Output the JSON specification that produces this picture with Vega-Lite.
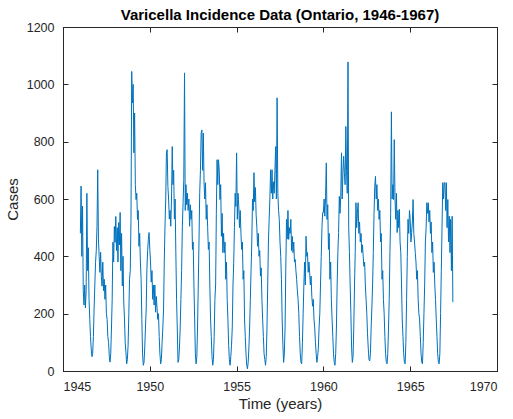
{
"$schema": "https://vega.github.io/schema/vega-lite/v6.json",
"width": 434, "height": 344,
"autosize": {"type": "none"},
"padding": {"left": 63, "top": 27, "right": 16, "bottom": 48},
"background": "white",
"title": {"text": "Varicella Incidence Data (Ontario, 1946-1967)", "font": "Liberation Sans", "fontSize": 15, "fontWeight": "bold", "color": "#000000", "offset": 6, "dy": 8, "anchor": "middle"},
"config": {
  "view": {"stroke": "#262626", "strokeWidth": 1},
  "axis": {"domainColor": "#262626", "tickColor": "#262626", "labelColor": "#262626", "titleColor": "#262626", "labelFont": "Liberation Sans", "titleFont": "Liberation Sans", "labelFontSize": 12.5, "titleFontSize": 15, "titleFontWeight": "normal", "grid": false, "tickSize": -5, "labelPadding": 14, "format": "d"}
},
"datasets": {"d": [
{"t":1946.000,"c":480},{"t":1946.042,"c":645},{"t":1946.083,"c":400},{"t":1946.125,"c":575},{"t":1946.167,"c":280},{"t":1946.208,"c":230},{"t":1946.250,"c":300},{"t":1946.292,"c":220},{"t":1946.333,"c":280},{"t":1946.375,"c":620},{"t":1946.417,"c":350},{"t":1946.458,"c":430},{"t":1946.500,"c":250},{"t":1946.542,"c":180},{"t":1946.583,"c":120},{"t":1946.625,"c":77},{"t":1946.667,"c":50},{"t":1946.708,"c":60},{"t":1946.750,"c":120},{"t":1946.792,"c":216},{"t":1946.833,"c":300},{"t":1946.875,"c":379},{"t":1946.917,"c":420},{"t":1946.958,"c":504},
{"t":1947.000,"c":702},{"t":1947.042,"c":460},{"t":1947.083,"c":400},{"t":1947.125,"c":344},{"t":1947.167,"c":414},{"t":1947.208,"c":330},{"t":1947.250,"c":296},{"t":1947.292,"c":380},{"t":1947.333,"c":280},{"t":1947.375,"c":320},{"t":1947.417,"c":250},{"t":1947.458,"c":300},{"t":1947.500,"c":200},{"t":1947.542,"c":180},{"t":1947.583,"c":120},{"t":1947.625,"c":100},{"t":1947.667,"c":50},{"t":1947.708,"c":31},{"t":1947.750,"c":60},{"t":1947.792,"c":150},{"t":1947.833,"c":250},{"t":1947.875,"c":449},{"t":1947.917,"c":380},{"t":1947.958,"c":504},
{"t":1948.000,"c":449},{"t":1948.042,"c":539},{"t":1948.083,"c":420},{"t":1948.125,"c":500},{"t":1948.167,"c":380},{"t":1948.208,"c":518},{"t":1948.250,"c":440},{"t":1948.292,"c":553},{"t":1948.333,"c":350},{"t":1948.375,"c":480},{"t":1948.417,"c":297},{"t":1948.458,"c":400},{"t":1948.500,"c":240},{"t":1948.542,"c":181},{"t":1948.583,"c":100},{"t":1948.625,"c":66},{"t":1948.667,"c":25},{"t":1948.708,"c":40},{"t":1948.750,"c":90},{"t":1948.792,"c":200},{"t":1948.833,"c":320},{"t":1948.875,"c":350},{"t":1948.917,"c":529},{"t":1948.958,"c":1045},
{"t":1949.000,"c":935},{"t":1949.042,"c":1000},{"t":1949.083,"c":761},{"t":1949.125,"c":900},{"t":1949.167,"c":650},{"t":1949.208,"c":598},{"t":1949.250,"c":620},{"t":1949.292,"c":529},{"t":1949.333,"c":560},{"t":1949.375,"c":435},{"t":1949.417,"c":480},{"t":1949.458,"c":380},{"t":1949.500,"c":320},{"t":1949.542,"c":180},{"t":1949.583,"c":60},{"t":1949.625,"c":20},{"t":1949.667,"c":30},{"t":1949.708,"c":80},{"t":1949.750,"c":150},{"t":1949.792,"c":216},{"t":1949.833,"c":355},{"t":1949.875,"c":420},{"t":1949.917,"c":459},{"t":1949.958,"c":483},
{"t":1950.000,"c":424},{"t":1950.042,"c":380},{"t":1950.083,"c":310},{"t":1950.125,"c":350},{"t":1950.167,"c":250},{"t":1950.208,"c":300},{"t":1950.250,"c":230},{"t":1950.292,"c":300},{"t":1950.333,"c":205},{"t":1950.375,"c":260},{"t":1950.417,"c":220},{"t":1950.458,"c":180},{"t":1950.500,"c":200},{"t":1950.542,"c":120},{"t":1950.583,"c":60},{"t":1950.625,"c":25},{"t":1950.667,"c":40},{"t":1950.708,"c":100},{"t":1950.750,"c":150},{"t":1950.792,"c":216},{"t":1950.833,"c":380},{"t":1950.875,"c":505},{"t":1950.917,"c":600},{"t":1950.958,"c":761},
{"t":1951.000,"c":772},{"t":1951.042,"c":644},{"t":1951.083,"c":600},{"t":1951.125,"c":530},{"t":1951.167,"c":560},{"t":1951.208,"c":505},{"t":1951.250,"c":600},{"t":1951.292,"c":783},{"t":1951.333,"c":650},{"t":1951.375,"c":700},{"t":1951.417,"c":530},{"t":1951.458,"c":600},{"t":1951.500,"c":413},{"t":1951.542,"c":250},{"t":1951.583,"c":150},{"t":1951.625,"c":30},{"t":1951.667,"c":40},{"t":1951.708,"c":80},{"t":1951.750,"c":150},{"t":1951.792,"c":250},{"t":1951.833,"c":350},{"t":1951.875,"c":505},{"t":1951.917,"c":588},{"t":1951.958,"c":667},
{"t":1952.000,"c":1040},{"t":1952.042,"c":560},{"t":1952.083,"c":650},{"t":1952.125,"c":580},{"t":1952.167,"c":620},{"t":1952.208,"c":560},{"t":1952.250,"c":600},{"t":1952.292,"c":505},{"t":1952.333,"c":580},{"t":1952.375,"c":529},{"t":1952.417,"c":560},{"t":1952.458,"c":424},{"t":1952.500,"c":450},{"t":1952.542,"c":300},{"t":1952.583,"c":181},{"t":1952.625,"c":60},{"t":1952.667,"c":25},{"t":1952.708,"c":50},{"t":1952.750,"c":150},{"t":1952.792,"c":300},{"t":1952.833,"c":450},{"t":1952.875,"c":622},{"t":1952.917,"c":700},{"t":1952.958,"c":830},
{"t":1953.000,"c":841},{"t":1953.042,"c":700},{"t":1953.083,"c":830},{"t":1953.125,"c":657},{"t":1953.167,"c":600},{"t":1953.208,"c":657},{"t":1953.250,"c":529},{"t":1953.292,"c":580},{"t":1953.333,"c":500},{"t":1953.375,"c":424},{"t":1953.417,"c":450},{"t":1953.458,"c":300},{"t":1953.500,"c":181},{"t":1953.542,"c":120},{"t":1953.583,"c":50},{"t":1953.625,"c":20},{"t":1953.667,"c":40},{"t":1953.708,"c":120},{"t":1953.750,"c":250},{"t":1953.792,"c":300},{"t":1953.833,"c":550},{"t":1953.875,"c":737},{"t":1953.917,"c":650},{"t":1953.958,"c":737},
{"t":1954.000,"c":700},{"t":1954.042,"c":598},{"t":1954.083,"c":650},{"t":1954.125,"c":470},{"t":1954.167,"c":550},{"t":1954.208,"c":413},{"t":1954.250,"c":480},{"t":1954.292,"c":413},{"t":1954.333,"c":450},{"t":1954.375,"c":320},{"t":1954.417,"c":380},{"t":1954.458,"c":250},{"t":1954.500,"c":181},{"t":1954.542,"c":90},{"t":1954.583,"c":40},{"t":1954.625,"c":20},{"t":1954.667,"c":50},{"t":1954.708,"c":90},{"t":1954.750,"c":150},{"t":1954.792,"c":300},{"t":1954.833,"c":374},{"t":1954.875,"c":500},{"t":1954.917,"c":620},{"t":1954.958,"c":574},
{"t":1955.000,"c":761},{"t":1955.042,"c":529},{"t":1955.083,"c":620},{"t":1955.125,"c":574},{"t":1955.167,"c":500},{"t":1955.208,"c":560},{"t":1955.250,"c":480},{"t":1955.292,"c":424},{"t":1955.333,"c":450},{"t":1955.375,"c":320},{"t":1955.417,"c":350},{"t":1955.458,"c":181},{"t":1955.500,"c":120},{"t":1955.542,"c":60},{"t":1955.583,"c":20},{"t":1955.625,"c":8},{"t":1955.667,"c":30},{"t":1955.708,"c":80},{"t":1955.750,"c":150},{"t":1955.792,"c":250},{"t":1955.833,"c":350},{"t":1955.875,"c":450},{"t":1955.917,"c":600},{"t":1955.958,"c":560},
{"t":1956.000,"c":692},{"t":1956.042,"c":590},{"t":1956.083,"c":640},{"t":1956.125,"c":545},{"t":1956.167,"c":500},{"t":1956.208,"c":435},{"t":1956.250,"c":480},{"t":1956.292,"c":400},{"t":1956.333,"c":420},{"t":1956.375,"c":331},{"t":1956.417,"c":360},{"t":1956.458,"c":250},{"t":1956.500,"c":181},{"t":1956.542,"c":120},{"t":1956.583,"c":60},{"t":1956.625,"c":40},{"t":1956.667,"c":20},{"t":1956.708,"c":50},{"t":1956.750,"c":150},{"t":1956.792,"c":300},{"t":1956.833,"c":450},{"t":1956.875,"c":529},{"t":1956.917,"c":600},{"t":1956.958,"c":702},
{"t":1957.000,"c":620},{"t":1957.042,"c":702},{"t":1957.083,"c":600},{"t":1957.125,"c":660},{"t":1957.167,"c":620},{"t":1957.208,"c":700},{"t":1957.250,"c":783},{"t":1957.292,"c":600},{"t":1957.333,"c":953},{"t":1957.375,"c":620},{"t":1957.417,"c":560},{"t":1957.458,"c":529},{"t":1957.500,"c":450},{"t":1957.542,"c":400},{"t":1957.583,"c":320},{"t":1957.625,"c":181},{"t":1957.667,"c":90},{"t":1957.708,"c":30},{"t":1957.750,"c":60},{"t":1957.792,"c":150},{"t":1957.833,"c":350},{"t":1957.875,"c":529},{"t":1957.917,"c":460},{"t":1957.958,"c":560},
{"t":1958.000,"c":459},{"t":1958.042,"c":500},{"t":1958.083,"c":480},{"t":1958.125,"c":529},{"t":1958.167,"c":420},{"t":1958.208,"c":470},{"t":1958.250,"c":413},{"t":1958.292,"c":450},{"t":1958.333,"c":380},{"t":1958.375,"c":389},{"t":1958.417,"c":350},{"t":1958.458,"c":320},{"t":1958.500,"c":280},{"t":1958.542,"c":250},{"t":1958.583,"c":200},{"t":1958.625,"c":120},{"t":1958.667,"c":60},{"t":1958.708,"c":30},{"t":1958.750,"c":25},{"t":1958.792,"c":100},{"t":1958.833,"c":200},{"t":1958.875,"c":300},{"t":1958.917,"c":380},{"t":1958.958,"c":300},
{"t":1959.000,"c":470},{"t":1959.042,"c":400},{"t":1959.083,"c":413},{"t":1959.125,"c":344},{"t":1959.167,"c":380},{"t":1959.208,"c":344},{"t":1959.250,"c":300},{"t":1959.292,"c":331},{"t":1959.333,"c":260},{"t":1959.375,"c":226},{"t":1959.417,"c":250},{"t":1959.458,"c":181},{"t":1959.500,"c":150},{"t":1959.542,"c":100},{"t":1959.583,"c":60},{"t":1959.625,"c":30},{"t":1959.667,"c":50},{"t":1959.708,"c":80},{"t":1959.750,"c":150},{"t":1959.792,"c":200},{"t":1959.833,"c":300},{"t":1959.875,"c":400},{"t":1959.917,"c":500},{"t":1959.958,"c":553},
{"t":1960.000,"c":553},{"t":1960.042,"c":600},{"t":1960.083,"c":540},{"t":1960.125,"c":609},{"t":1960.167,"c":726},{"t":1960.208,"c":529},{"t":1960.250,"c":580},{"t":1960.292,"c":424},{"t":1960.333,"c":480},{"t":1960.375,"c":320},{"t":1960.417,"c":380},{"t":1960.458,"c":250},{"t":1960.500,"c":181},{"t":1960.542,"c":120},{"t":1960.583,"c":60},{"t":1960.625,"c":30},{"t":1960.667,"c":20},{"t":1960.708,"c":60},{"t":1960.750,"c":150},{"t":1960.792,"c":300},{"t":1960.833,"c":413},{"t":1960.875,"c":483},{"t":1960.917,"c":609},{"t":1960.958,"c":550},
{"t":1961.000,"c":609},{"t":1961.042,"c":761},{"t":1961.083,"c":600},{"t":1961.125,"c":690},{"t":1961.167,"c":749},{"t":1961.208,"c":692},{"t":1961.250,"c":650},{"t":1961.292,"c":853},{"t":1961.333,"c":700},{"t":1961.375,"c":620},{"t":1961.417,"c":1078},{"t":1961.458,"c":500},{"t":1961.500,"c":413},{"t":1961.542,"c":300},{"t":1961.583,"c":200},{"t":1961.625,"c":80},{"t":1961.667,"c":30},{"t":1961.708,"c":50},{"t":1961.750,"c":150},{"t":1961.792,"c":300},{"t":1961.833,"c":413},{"t":1961.875,"c":587},{"t":1961.917,"c":500},{"t":1961.958,"c":550},
{"t":1962.000,"c":587},{"t":1962.042,"c":480},{"t":1962.083,"c":520},{"t":1962.125,"c":450},{"t":1962.167,"c":480},{"t":1962.208,"c":413},{"t":1962.250,"c":440},{"t":1962.292,"c":400},{"t":1962.333,"c":365},{"t":1962.375,"c":380},{"t":1962.417,"c":300},{"t":1962.458,"c":250},{"t":1962.500,"c":200},{"t":1962.542,"c":130},{"t":1962.583,"c":80},{"t":1962.625,"c":40},{"t":1962.667,"c":35},{"t":1962.708,"c":60},{"t":1962.750,"c":150},{"t":1962.792,"c":220},{"t":1962.833,"c":300},{"t":1962.875,"c":413},{"t":1962.917,"c":550},{"t":1962.958,"c":644},
{"t":1963.000,"c":679},{"t":1963.042,"c":600},{"t":1963.083,"c":650},{"t":1963.125,"c":560},{"t":1963.167,"c":600},{"t":1963.208,"c":529},{"t":1963.250,"c":560},{"t":1963.292,"c":450},{"t":1963.333,"c":480},{"t":1963.375,"c":320},{"t":1963.417,"c":350},{"t":1963.458,"c":250},{"t":1963.500,"c":200},{"t":1963.542,"c":120},{"t":1963.583,"c":60},{"t":1963.625,"c":30},{"t":1963.667,"c":25},{"t":1963.708,"c":60},{"t":1963.750,"c":150},{"t":1963.792,"c":250},{"t":1963.833,"c":413},{"t":1963.875,"c":550},{"t":1963.917,"c":904},{"t":1963.958,"c":600},
{"t":1964.000,"c":650},{"t":1964.042,"c":598},{"t":1964.083,"c":807},{"t":1964.125,"c":600},{"t":1964.167,"c":529},{"t":1964.208,"c":620},{"t":1964.250,"c":483},{"t":1964.292,"c":560},{"t":1964.333,"c":500},{"t":1964.375,"c":564},{"t":1964.417,"c":450},{"t":1964.458,"c":413},{"t":1964.500,"c":300},{"t":1964.542,"c":181},{"t":1964.583,"c":120},{"t":1964.625,"c":60},{"t":1964.667,"c":30},{"t":1964.708,"c":25},{"t":1964.750,"c":100},{"t":1964.792,"c":250},{"t":1964.833,"c":400},{"t":1964.875,"c":529},{"t":1964.917,"c":480},{"t":1964.958,"c":560},
{"t":1965.000,"c":529},{"t":1965.042,"c":450},{"t":1965.083,"c":483},{"t":1965.125,"c":520},{"t":1965.167,"c":598},{"t":1965.208,"c":480},{"t":1965.250,"c":450},{"t":1965.292,"c":413},{"t":1965.333,"c":380},{"t":1965.375,"c":320},{"t":1965.417,"c":350},{"t":1965.458,"c":250},{"t":1965.500,"c":200},{"t":1965.542,"c":181},{"t":1965.583,"c":120},{"t":1965.625,"c":60},{"t":1965.667,"c":30},{"t":1965.708,"c":25},{"t":1965.750,"c":100},{"t":1965.792,"c":200},{"t":1965.833,"c":300},{"t":1965.875,"c":450},{"t":1965.917,"c":500},{"t":1965.958,"c":587},
{"t":1966.000,"c":550},{"t":1966.042,"c":587},{"t":1966.083,"c":520},{"t":1966.125,"c":560},{"t":1966.167,"c":480},{"t":1966.208,"c":520},{"t":1966.250,"c":413},{"t":1966.292,"c":450},{"t":1966.333,"c":344},{"t":1966.375,"c":380},{"t":1966.417,"c":300},{"t":1966.458,"c":250},{"t":1966.500,"c":181},{"t":1966.542,"c":120},{"t":1966.583,"c":60},{"t":1966.625,"c":30},{"t":1966.667,"c":25},{"t":1966.708,"c":60},{"t":1966.750,"c":200},{"t":1966.792,"c":350},{"t":1966.833,"c":500},{"t":1966.875,"c":657},{"t":1966.917,"c":600},{"t":1966.958,"c":657},
{"t":1967.000,"c":657},{"t":1967.042,"c":560},{"t":1967.083,"c":657},{"t":1967.125,"c":500},{"t":1967.167,"c":598},{"t":1967.208,"c":450},{"t":1967.250,"c":540},{"t":1967.292,"c":413},{"t":1967.333,"c":529},{"t":1967.375,"c":350},{"t":1967.417,"c":540},{"t":1967.458,"c":240}
]},
"data": {"name": "d"},
"layer": [
  {
    "mark": {"type": "line", "color": "#0072BD", "strokeWidth": 1},
    "encoding": {
      "x": {"field": "t", "type": "quantitative", "scale": {"domain": [1945, 1970], "nice": false, "zero": false}, "axis": {"title": "Time (years)", "values": [1945, 1950, 1955, 1960, 1965, 1970], "titlePadding": 4}},
      "y": {"field": "c", "type": "quantitative", "scale": {"domain": [0, 1200], "nice": false}, "axis": {"title": "Cases", "values": [0, 200, 400, 600, 800, 1000, 1200], "titlePadding": 6}}
    }
  },
  {
    "mark": {"type": "point", "opacity": 0},
    "encoding": {
      "x": {"field": "t", "type": "quantitative", "scale": {"domain": [1945, 1970], "nice": false, "zero": false}, "axis": {"orient": "top", "title": null, "labels": false, "values": [1945, 1950, 1955, 1960, 1965, 1970]}},
      "y": {"field": "c", "type": "quantitative", "scale": {"domain": [0, 1200], "nice": false}, "axis": {"orient": "right", "title": null, "labels": false, "values": [0, 200, 400, 600, 800, 1000, 1200]}}
    }
  }
],
"resolve": {"axis": {"x": "independent", "y": "independent"}}
}
